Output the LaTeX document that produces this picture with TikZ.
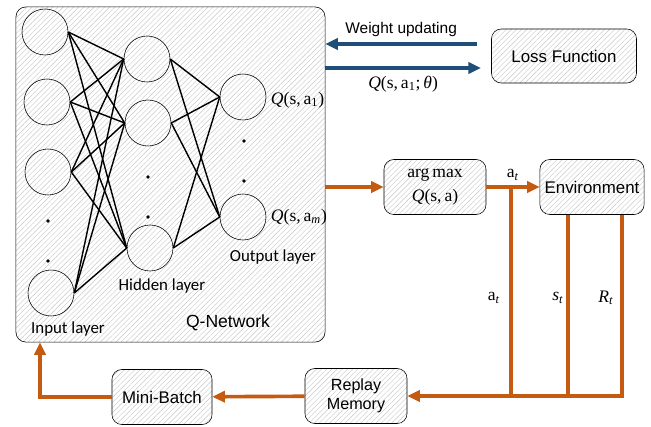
\documentclass[tikz,border=0pt]{standalone}
\usepackage{fontspec}
\setmainfont{Liberation Sans}
\newfontfamily\tms{Liberation Serif}
\newfontfamily\clb{Carlito}
\usetikzlibrary{arrows.meta,patterns.meta}
\definecolor{rlorange}{HTML}{C55A11}
\definecolor{rlblue}{HTML}{1F4E79}
\begin{document}
\begin{tikzpicture}[x=0.025cm,y=-0.025cm]
\tikzstyle{box} = [
 draw,
 rounded corners=7pt,
 pattern={Lines[angle=45,distance=2.6pt,line width=0.3pt]},
 pattern color=gray!45,
 font=\fontsize{12}{14}\selectfont,
 align=center
]
\tikzstyle{neuron} = [
 draw,
 circle,
 inner sep=0pt,
 minimum size=1.15cm
]
\tikzstyle{layer} = [font=\clb\fontsize{12}{14}\selectfont]
\tikzstyle{mth} = [text=black,font=\tms\fontsize{12.5}{14}\selectfont]
\tikzstyle{flow} = [draw,rlorange,line width=2.6pt,-{Triangle[length=9pt,width=8pt]}]
\tikzstyle{back} = [draw,rlblue,line width=2.4pt,-{Triangle[length=9pt,width=8pt]}]
\useasboundingbox (0,0) rectangle (651,427);

\node[box,minimum width=7.725cm,minimum height=8.375cm] at (170.5,174.5) (qnet) {};
\node[box] at (564,56) (loss) [minimum width=3.625cm,minimum height=1.35cm] {Loss Function};
\node[box] at (435,187) (argmax) [minimum width=2.55cm,minimum height=1.375cm,font=\tms\fontsize{12.5}{17}\selectfont] {arg\,max\\\textit{Q}(s,\,a)};
\node[box] at (592,187) (env) [minimum width=2.525cm,minimum height=1.375cm] {Environment};
\node[box] at (356,396) (replay) [minimum width=2.55cm,minimum height=1.375cm,font=\fontsize{11.5}{13.5}\selectfont] {Replay\\Memory};
\node[box] at (162,397) (mini) [minimum width=2.5cm,minimum height=1.375cm] {Mini-Batch};

% network
\node[neuron] at (45,32)   (i1) {};
\node[neuron] at (47,102)  (i2) {};
\node[neuron] at (48,172)  (i3) {};
\node[neuron] at (51,293)  (i4) {};
\node[neuron] at (147,59)  (h1) {};
\node[neuron] at (148,123) (h2) {};
\node[neuron] at (150,248) (h3) {};
\node[neuron] at (243,97)  (o1) {};
\node[neuron] at (243,217) (o2) {};
\foreach \i in {i1,i2,i3,i4}
  \foreach \h in {h1,h2,h3}
    \draw[line width=1pt] (\i.east) -- (\h.west);
\foreach \h in {h1,h2,h3}
  \foreach \o in {o1,o2}
    \draw[line width=1pt] (\h.east) -- (\o.west);
\foreach \y in {221,261} \fill (48,\y) circle (1.3pt);
\foreach \y in {177,217} \fill (148,\y) circle (1.3pt);
\foreach \y in {141,181} \fill (244,\y) circle (1.3pt);

\node[mth,anchor=west] at (266,100) (q1) {\textit{Q}(s,\,a\textsubscript{1})};
\node[mth,anchor=west] at (266,217) (qm) {\textit{Q}(s,\,a\textsubscript{\textit{m}})};
\node[layer] at (273,257) (outl) {Output layer};
\node[layer] at (162,286) (hidl) {Hidden layer};
\node[layer] at (68,329)  (inl)  {Input layer};
\node[font=\fontsize{12.5}{14}\selectfont] at (228,323) (qlab) {Q-Network};

% weight update
\coordinate (w1) at (477,44);
\coordinate (w2) at (481,68);
\path[back] (w1) -- node[above=1pt,text=black,font=\fontsize{11}{13}\selectfont]{Weight updating} (w1 -| qnet.east);
\path[back] (w2 -| qnet.east) -- node[mth,below=1pt]{\textit{Q}(s,\,a\textsubscript{1};\,\textit{θ})} (w2);

% interaction
\coordinate (ta) at (511,0);
\coordinate (ts) at (568,0);
\coordinate (tr) at (622,0);
\path[flow] (argmax -| qnet.east) -> (argmax);
\path[flow] (argmax) -> node[mth,above]{a\textsubscript{\textit{t}}} (env);
\draw[rlorange,line width=2.6pt] (argmax -| ta) -- (replay -| ta);
\draw[rlorange,line width=2.6pt] (env.south -| ts) -- (replay -| ts);
\path[flow] (env.south -| tr) |- (replay);
\node[mth] at (494,298) (la) {a\textsubscript{\textit{t}}};
\node[mth] at (558,298) (ls) {\textit{s}\textsubscript{\textit{t}}};
\node[mth] at (606,298) (lr) {\textit{R}\textsubscript{\textit{t}}};
\path[flow] (replay) -> (mini);
\coordinate (feed) at (40,0);
\path[flow] (mini) -| (feed |- qnet.south);
\end{tikzpicture}
\end{document}
